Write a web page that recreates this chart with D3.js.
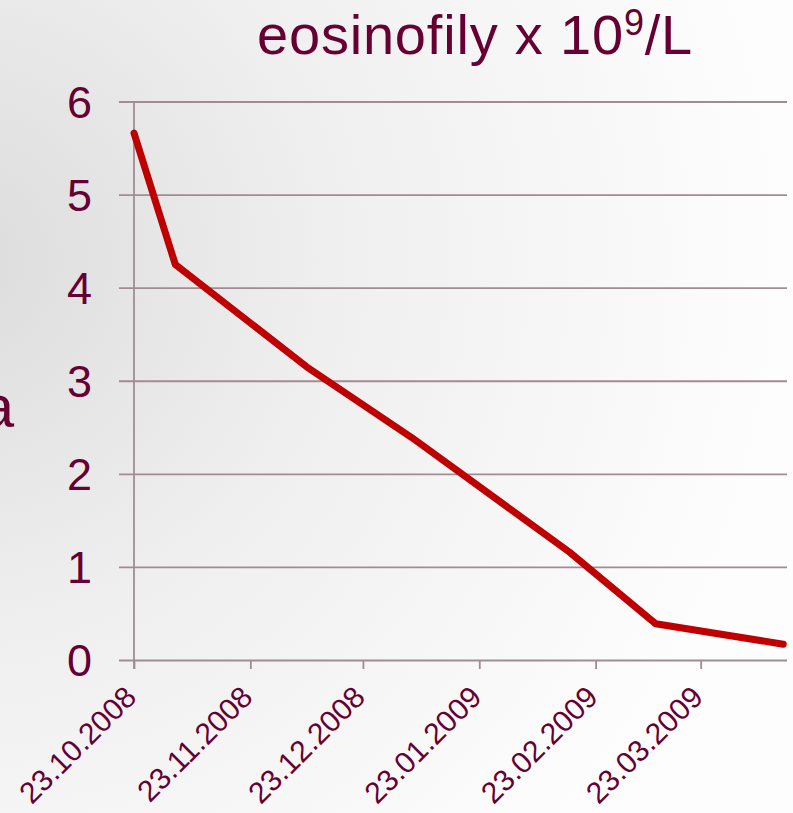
<!DOCTYPE html>
<html>
<head>
<meta charset="utf-8">
<script src="https://cdn.jsdelivr.net/npm/d3@7"></script>
<style>
  html, body { margin: 0; padding: 0; overflow: hidden; }
  svg { display: block; font-family: "Liberation Sans", Arial, sans-serif; }
</style>
</head>
<body>
<svg id="chart" width="793" height="813"></svg>
<script>
// Eosinophil counts (x 10^9/L) by sampling date
const sampleDates = ["23.10.2008", "03.11.2008", "08.12.2008", "05.01.2009", "16.02.2009", "11.03.2009", "14.04.2009"];
const eosinophils = [5.66, 4.25, 3.15, 2.39, 1.16, 0.39, 0.17];
const dateTicks = ["23.10.2008", "23.11.2008", "23.12.2008", "23.01.2009", "23.02.2009", "23.03.2009"];
const valueTicks = [0, 1, 2, 3, 4, 5, 6];
const axisEnd = "15.04.2009";

const parse = d3.timeParse("%d.%m.%Y");

const W = 793, H = 813;
const svg = d3.select("#chart");

const textColor = "#660033";
const gridColor = "#A28C93";
const lineColor = "#BF0000";

// slide background
const defs = svg.append("defs");
const grad = defs.append("radialGradient")
  .attr("id", "bg").attr("gradientUnits", "userSpaceOnUse")
  .attr("cx", -40).attr("cy", 260).attr("r", 820);
grad.append("stop").attr("offset", 0).attr("stop-color", "#DCDCDC");
grad.append("stop").attr("offset", 0.45).attr("stop-color", "#EFEFEF");
grad.append("stop").attr("offset", 1).attr("stop-color", "#FDFDFD");
svg.append("rect").attr("width", W).attr("height", H).attr("fill", "url(#bg)");

const x = d3.scaleTime()
  .domain([parse(dateTicks[0]), parse(axisEnd)])
  .range([134, 787]);
const y = d3.scaleLinear().domain([0, 6]).range([660, 101.5]);

// horizontal gridlines + left tick marks
const yAxis = d3.axisLeft(y).tickValues(valueTicks).tickSize(-(787 - 119)).tickPadding(0).tickFormat("");
const gy = svg.append("g").attr("transform", "translate(119,0)").call(yAxis);
gy.select(".domain").remove();
gy.selectAll(".tick line").attr("stroke", gridColor).attr("stroke-width", 1.8);

// y tick labels
svg.append("g").selectAll("text").data(valueTicks).join("text")
  .attr("x", 92).attr("y", d => y(d))
  .attr("dy", "0.36em")
  .attr("text-anchor", "end")
  .attr("font-size", 45)
  .attr("fill", textColor)
  .text(d => d);

// vertical axis line
svg.append("line")
  .attr("x1", 134).attr("x2", 134)
  .attr("y1", y(6)).attr("y2", 669)
  .attr("stroke", gridColor).attr("stroke-width", 1.8);

// x ticks
const xAxis = d3.axisBottom(x).tickValues(dateTicks.map(parse)).tickSize(9).tickFormat("");
const gx = svg.append("g").attr("transform", `translate(0,${y(0)})`).call(xAxis);
gx.select(".domain").remove();
gx.selectAll(".tick line").attr("stroke", gridColor).attr("stroke-width", 1.8);

// rotated date labels
svg.append("g").selectAll("text").data(dateTicks).join("text")
  .attr("transform", d => `translate(${x(parse(d)) + 4},699) rotate(-45)`)
  .attr("text-anchor", "end")
  .attr("font-size", 30)
  .attr("fill", textColor)
  .text(d => d);

// eosinophil line
const pts = sampleDates.map((d, i) => ({ date: parse(d), v: eosinophils[i] }));
svg.append("path")
  .datum(pts)
  .attr("d", d3.line().x(d => x(d.date)).y(d => y(d.v)))
  .attr("fill", "none")
  .attr("stroke", lineColor)
  .attr("stroke-width", 7)
  .attr("stroke-linejoin", "round")
  .attr("stroke-linecap", "round");

// title
const title = svg.append("text")
  .attr("x", 257).attr("y", 54)
  .attr("font-size", 56)
  .attr("letter-spacing", 0.8)
  .attr("fill", textColor);
title.append("tspan").text("eosinofily x 10");
title.append("tspan").attr("dy", -19).attr("font-size", 36).text("9");
title.append("tspan").attr("dy", 19).text("/L");

// fragment of neighbouring slide text
svg.append("text")
  .attr("x", 14).attr("y", 427)
  .attr("text-anchor", "end")
  .attr("font-size", 60)
  .attr("fill", textColor)
  .text("a");
</script>
</body>
</html>
